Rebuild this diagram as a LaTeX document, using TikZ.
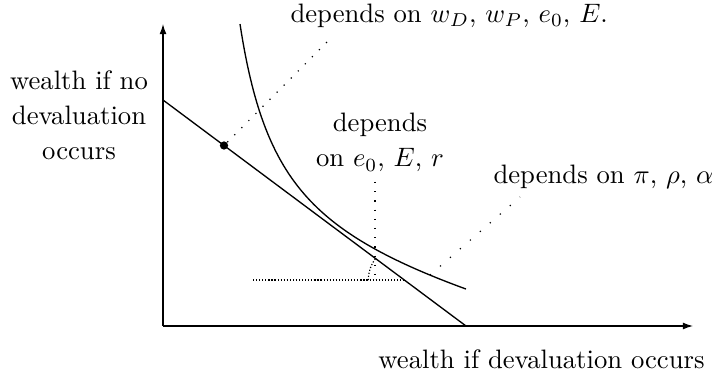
\documentclass[tikz,border=0pt]{standalone}
\usetikzlibrary{arrows.meta}
\tikzset{
  lbl/.style={inner sep=0pt, anchor=base},
  lblw/.style={inner sep=0pt, anchor=base west},
  axis/.style={line width=0.45pt, -{Latex[length=3.8pt,width=2.6pt]}},
  curveline/.style={line width=0.5pt},
  dotgap/.style={line width=0.45pt, dash pattern=on 0.45pt off #1},
}
\begin{document}
\begin{tikzpicture}[x=0.375pt, y=0.375pt]
\useasboundingbox (0,0) rectangle (712,378);
% axes
\coordinate (O) at (163,52);
\coordinate (Ytop) at (163,354);
\coordinate (Xend) at (693,52);
\draw[axis] (O) -- (Ytop);
\draw[axis] (O) -- (Xend);
% budget line
\coordinate (A) at (163,278);
\coordinate (B) at (466,52);
\draw[curveline] (A) -- (B);
% indifference curve
\draw[curveline] plot[domain=240:466, samples=150] (\x, {154.5 - 0.2222*\x + 10111/(\x-200)});
% point on budget line
\node[circle, fill=black, inner sep=0pt, minimum size=3.1pt] (pt) at (224,232.5) {};
% texts
\node[lblw] (tW) at (290,355) {depends on $w_D$, $w_P$, $e_0$, $E$.};
\node[lbl] (tD1) at (380,246) {depends};
\node[lbl] (tD2) at (380,211) {on $e_0$, $E$, $r$};
\node[lblw] (tP) at (493,194) {depends on $\pi$, $\rho$, $\alpha$};
\node[lbl] (yl1) at (79,288) {wealth if no};
\node[lbl] (yl2) at (79,253) {devaluation};
\node[lbl] (yl3) at (79,218) {occurs};
\node[lbl] (xl) at (541.5,10) {wealth if devaluation occurs};
% dotted connectors
\coordinate (wEnd) at (332,341);
\draw[dotgap=3.3pt] (pt) -- (wEnd);
\coordinate (vTop) at (375,196);
\coordinate (vBot) at (375,98);
\draw[dotgap=3pt] (vTop) -- (vBot);
\coordinate (hL) at (253,98);
\coordinate (hR) at (404.3,98);
\draw[dotgap=0.7pt] (hL) -- (hR);
\draw[dotgap=0.7pt] ([xshift=-13.5pt]hR) arc[start angle=180, end angle=143.3, radius=13.5pt];
\coordinate (cOn) at (430,103);
\coordinate (pEnd) at (520,181);
\draw[dotgap=4.5pt] (cOn) -- (pEnd);
\end{tikzpicture}
\end{document}
